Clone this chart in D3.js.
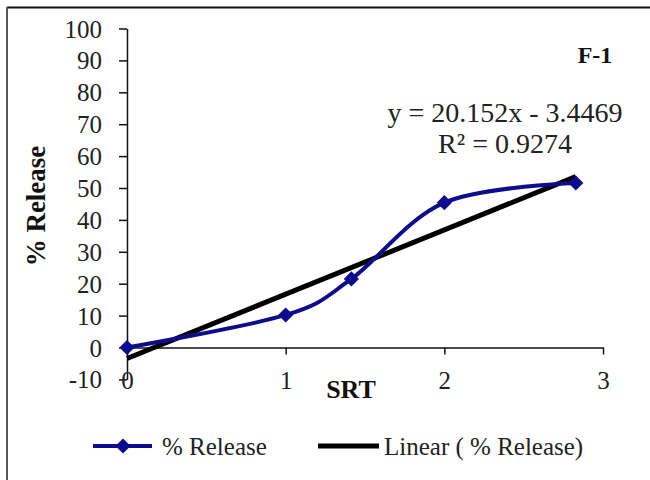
<!DOCTYPE html>
<html>
<head>
<meta charset="utf-8">
<script src="https://cdn.jsdelivr.net/npm/d3@7"></script>
<style>
  html, body { margin: 0; padding: 0; background: #fff; }
  svg { display: block; font-family: "Liberation Serif", "Times New Roman", serif; }
</style>
</head>
<body>
<svg id="chart" width="650" height="480"></svg>
<script>
// Square-root-of-time release data (F-1)
const srt = [0, 1, Math.SQRT2, 2, 2 * Math.SQRT2];
const release = [0, 10.2, 21.5, 45.4, 51.6];
const xTicks = [0, 1, 2, 3];
const yTicks = [-10, 0, 10, 20, 30, 40, 50, 60, 70, 80, 90, 100];
const trendSlope = 20.152;
const trendIntercept = -3.4469;
const equationText = "y = 20.152x - 3.4469";
const r2Text = "R² = 0.9274";
const panelLabel = "F-1";
const seriesName = "% Release";
const trendName = "Linear ( % Release)";

const svg = d3.select("#chart");
const navy = "#0c0c8c";

// frame
svg.append("line").attr("x1", 7).attr("x2", 650).attr("y1", 7.5).attr("y2", 7.5)
  .attr("stroke", "#111").attr("stroke-width", 2);
svg.append("line").attr("x1", 7).attr("x2", 7).attr("y1", 7).attr("y2", 480)
  .attr("stroke", "#555").attr("stroke-width", 2);

const x = d3.scaleLinear().domain([0, 3]).range([127, 603]);
const y = d3.scaleLinear().domain([-10, 100]).range([379.4, 28.5]);

// y axis (plain hyphen for negatives)
const yAxis = svg.append("g").attr("transform", `translate(${x(0)},0)`)
  .call(d3.axisLeft(y).tickValues(yTicks).tickFormat(d => String(d))
    .tickSize(8).tickSizeOuter(0).tickPadding(17));
yAxis.select(".domain").attr("stroke", "#111").attr("stroke-width", 1.5);
yAxis.selectAll(".tick line").attr("stroke", "#111").attr("stroke-width", 1.5);
yAxis.selectAll(".tick text").attr("font-size", 25).attr("fill", "#222")
  .attr("font-family", "Liberation Serif, serif").attr("dy", "0.34em");

// x axis along the zero line
const xAxis = svg.append("g").attr("transform", `translate(0,${y(0)})`)
  .call(d3.axisBottom(x).tickValues(xTicks).tickFormat(d => String(d))
    .tickSize(7).tickSizeOuter(0).tickPadding(17));
xAxis.select(".domain").attr("stroke", "#111").attr("stroke-width", 1.5);
xAxis.selectAll(".tick line").attr("stroke", "#111").attr("stroke-width", 1.5);
xAxis.selectAll(".tick text").attr("font-size", 25).attr("fill", "#222")
  .attr("font-family", "Liberation Serif, serif");

// axis titles
svg.append("text").attr("transform", "translate(45,206) rotate(-90)")
  .attr("text-anchor", "middle").attr("font-size", 27).attr("font-weight", "bold")
  .attr("fill", "#111").text(seriesName);
svg.append("text").attr("x", 351).attr("y", 398)
  .attr("text-anchor", "middle").attr("font-size", 26).attr("font-weight", "bold")
  .attr("fill", "#111").text("SRT");

// linear trend over the data range
const xMin = d3.min(srt), xMax = d3.max(srt);
svg.append("line")
  .attr("x1", x(xMin)).attr("y1", y(trendSlope * xMin + trendIntercept))
  .attr("x2", x(xMax)).attr("y2", y(trendSlope * xMax + trendIntercept))
  .attr("stroke", "#000").attr("stroke-width", 5);

// smoothed release curve
const pts = srt.map((v, i) => [v, release[i]]);
svg.append("path").datum(pts)
  .attr("d", d3.line().x(d => x(d[0])).y(d => y(d[1])).curve(d3.curveCardinal.tension(0)))
  .attr("fill", "none").attr("stroke", navy).attr("stroke-width", 4);

const diamond = d3.symbol().type(d3.symbolSquare).size(115);
svg.selectAll(".marker").data(pts).join("path").attr("class", "marker")
  .attr("transform", d => `translate(${x(d[0])},${y(d[1])}) rotate(45)`)
  .attr("d", diamond).attr("fill", navy);

// annotations
svg.append("text").attr("x", 595).attr("y", 63).attr("text-anchor", "middle")
  .attr("font-size", 24).attr("font-weight", "bold").attr("fill", "#111").text(panelLabel);
svg.append("text").attr("x", 505).attr("y", 122).attr("text-anchor", "middle")
  .attr("font-size", 28).attr("fill", "#222").text(equationText);
svg.append("text").attr("x", 505).attr("y", 153).attr("text-anchor", "middle")
  .attr("font-size", 28).attr("fill", "#222").text(r2Text);

// legend
const ly = 446;
svg.append("line").attr("x1", 93).attr("x2", 152).attr("y1", ly).attr("y2", ly)
  .attr("stroke", navy).attr("stroke-width", 4);
svg.append("path").attr("transform", `translate(123,${ly}) rotate(45)`).attr("d", diamond).attr("fill", navy);
svg.append("text").attr("x", 162).attr("y", ly + 9).attr("font-size", 25).attr("fill", "#222").text(seriesName);
svg.append("line").attr("x1", 318).attr("x2", 379).attr("y1", ly).attr("y2", ly)
  .attr("stroke", "#000").attr("stroke-width", 5);
svg.append("text").attr("x", 384).attr("y", ly + 9).attr("font-size", 25).attr("fill", "#222").text(trendName);
</script>
</body>
</html>
